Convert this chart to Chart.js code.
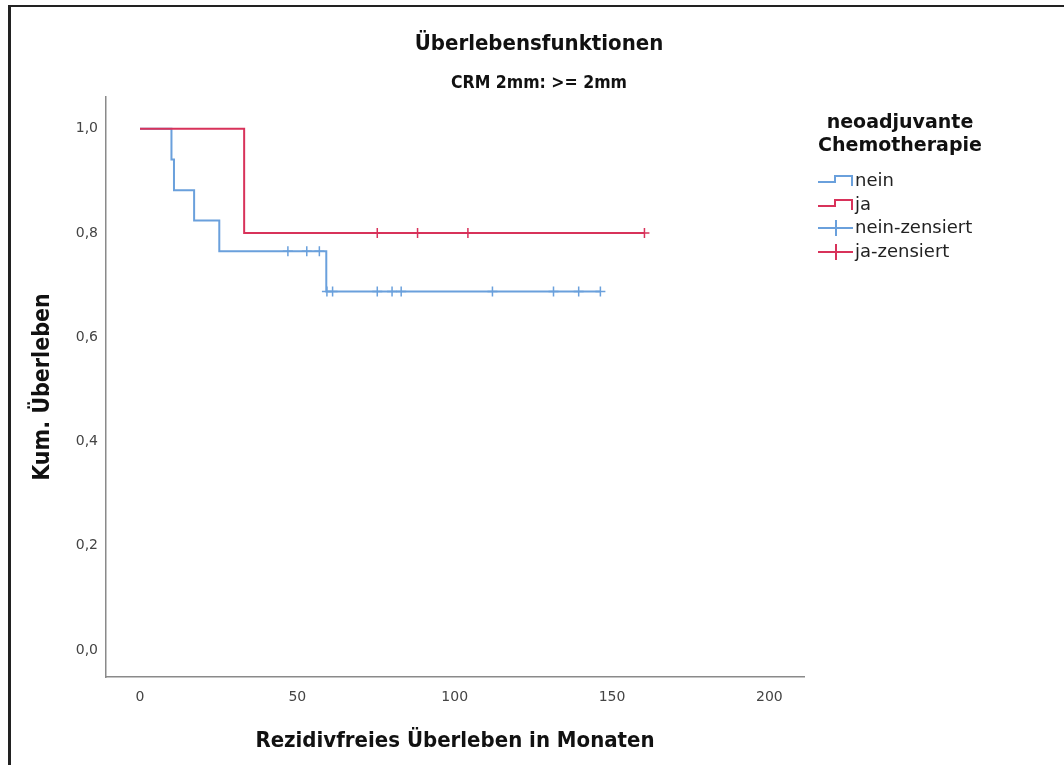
<!DOCTYPE html>
<html>
<head>
<meta charset="utf-8">
<script src="https://cdn.jsdelivr.net/npm/chart.js@4.4.1/dist/chart.umd.min.js"></script>
<style>
  html, body { margin: 0; padding: 0; background: #fff; }
  body { width: 1064px; height: 765px; position: relative; overflow: hidden; }
  #frame {
    position: absolute; left: 8px; top: 5px; right: -10px; bottom: -10px;
    border-top: 2.5px solid #222; border-left: 3px solid #222;
  }
  #chart { position: absolute; left: 0; top: 0; }
  .ttl {
    position: absolute; left: 0; width: 1078px; text-align: center;
    font-family: "Liberation Sans Narrow", "DejaVu Sans Condensed", sans-serif;
    font-weight: bold; color: #111;
  }
  #title { top: 30px; font-size: 22px; }
  #subtitle { top: 72px; font-size: 17.5px; }
  #legend { position: absolute; left: 800px; top: 110px; width: 200px; }
  #legend h3 {
    margin: 0; text-align: center; font-size: 19px; line-height: 23px;
    font-family: "DejaVu Sans", sans-serif; font-weight: bold; color: #111;
  }
  .legend-item {
    position: relative; height: 23.5px; line-height: 23.5px;
    font-family: "DejaVu Sans", sans-serif; font-size: 18px; color: #222;
  }
  .legend-item svg { position: absolute; left: 18px; top: 3px; }
  .legend-item span { position: absolute; left: 55px; top: -2px; }
</style>
</head>
<body>
<div id="frame"></div>
<canvas id="chart" width="1064" height="765"></canvas>
<div class="ttl" id="title">Überlebensfunktionen</div>
<div class="ttl" id="subtitle">CRM 2mm: &gt;= 2mm</div>
<div id="legend"></div>

<script>
/* DATA */
const xTicks = [0, 50, 100, 150, 200];
const yTicks = [0, 0.2, 0.4, 0.6, 0.8, 1.0];

// nein (keine neoadjuvante Chemo)
const neinTimes = [0, 10, 10.8, 17.2, 25.2, 59.2, 146.3];
const neinSurv  = [1, 0.941, 0.882, 0.824, 0.765, 0.688, 0.688];
const neinCensTimes = [47, 53, 57, 59.4, 61.2, 75.4, 80.1, 83, 112, 131.4, 139.4, 146.3];
const neinCensSurv  = [0.765, 0.765, 0.765, 0.688, 0.688, 0.688, 0.688, 0.688, 0.688, 0.688, 0.688, 0.688];

// ja
const jaTimes = [0, 33.1, 160.3];
const jaSurv  = [1, 0.8, 0.8];
const jaCensTimes = [75.4, 88.2, 104.2, 160.3];
const jaCensSurv  = [0.8, 0.8, 0.8, 0.8];

const legendLabels = ["nein", "ja", "nein-zensiert", "ja-zensiert"];

const BLUE = "#6aa0dc";
const RED = "#d8325a";

/* UTIL */
function pts(xs, ys) {
  return xs.map((x, i) => ({ x, y: ys[i] }));
}
function fmtComma(v) {
  return v.toFixed(1).replace(".", ",");
}

const condensed = "'Liberation Sans Narrow', 'DejaVu Sans Condensed', sans-serif";

/* CHART */
function drawChart() {
  new Chart(document.getElementById("chart"), {
    type: "scatter",
    data: {
      datasets: [
        { data: pts(jaTimes, jaSurv), showLine: true, stepped: true,
          borderColor: RED, borderWidth: 2, pointRadius: 0, order: 1 },
        { data: pts(jaCensTimes, jaCensSurv), pointStyle: "cross",
          pointRadius: 5, pointBorderWidth: 1.5, borderColor: RED, order: 0 },
        { data: pts(neinTimes, neinSurv), showLine: true, stepped: true,
          borderColor: BLUE, borderWidth: 2, pointRadius: 0, order: 3 },
        { data: pts(neinCensTimes, neinCensSurv), pointStyle: "cross",
          pointRadius: 5, pointBorderWidth: 1.5, borderColor: BLUE, order: 2 }
      ]
    },
    options: {
      responsive: false,
      animation: false,
      layout: { padding: { top: 97, left: 10, right: 260, bottom: 0 } },
      plugins: { legend: { display: false }, tooltip: { enabled: false } },
      scales: {
        x: {
          type: "linear", min: -10.8, max: 211,
          grid: { display: false, drawTicks: false },
          border: { display: true, color: "#8a8a8a", width: 1.5 },
          afterBuildTicks: s => { s.ticks = xTicks.map(v => ({ value: v })); },
          afterFit: s => { s.height = 88; },
          ticks: { padding: 12, color: "#444", font: { family: "DejaVu Sans", size: 14 } },
          title: {
            display: true, text: "Rezidivfreies Überleben in Monaten", color: "#111",
            font: { family: condensed, size: 22, weight: "bold" }, padding: { top: 0, bottom: 11 }
          }
        },
        y: {
          type: "linear", min: -0.052, max: 1.061,
          grid: { display: false, drawTicks: false },
          border: { display: true, color: "#8a8a8a", width: 1.5 },
          afterBuildTicks: s => { s.ticks = yTicks.map(v => ({ value: v })); },
          afterFit: s => { s.width = 96; },
          ticks: { padding: 8, color: "#444", font: { family: "DejaVu Sans", size: 14 },
                   callback: v => fmtComma(v) },
          title: {
            display: true, text: "Kum. Überleben", color: "#111",
            font: { family: condensed, size: 23, weight: "bold" }, padding: { top: 19, bottom: 0 }
          }
        }
      }
    }
  });
}

/* LEGEND */
function renderLegend() {
  const box = document.getElementById("legend");
  const icons = [
    `<path d="M0 9 H17 V3 H34 V13" fill="none" stroke="${BLUE}" stroke-width="2"/>`,
    `<path d="M0 9 H17 V3 H34 V13" fill="none" stroke="${RED}" stroke-width="2"/>`,
    `<path d="M0 8 H35 M18 0 V16" fill="none" stroke="${BLUE}" stroke-width="2"/>`,
    `<path d="M0 8 H35 M18 0 V16" fill="none" stroke="${RED}" stroke-width="2"/>`
  ];
  box.innerHTML = `<h3>neoadjuvante<br>Chemotherapie</h3><div style="height:14px"></div>`;
  legendLabels.forEach((n, i) => {
    box.innerHTML += `
      <div class="legend-item">
        <svg width="36" height="17">${icons[i]}</svg>
        <span>${n}</span>
      </div>`;
  });
}

drawChart();
renderLegend();
</script>
</body>
</html>
